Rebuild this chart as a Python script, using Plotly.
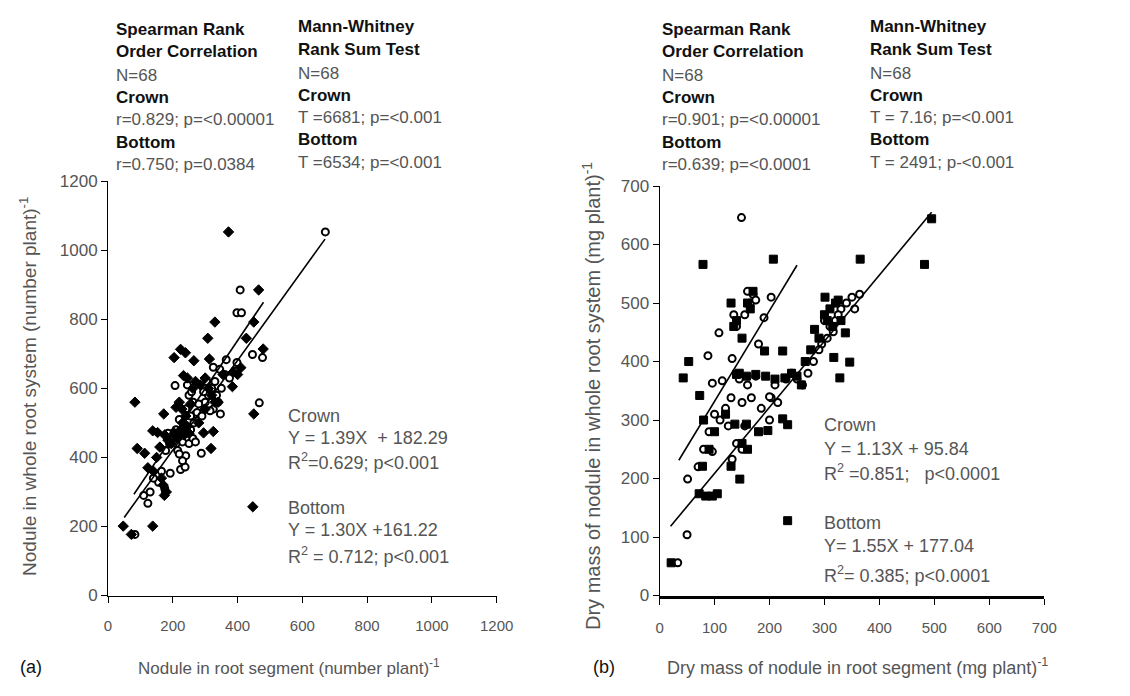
import plotly.graph_objects as go

# ---------------- Panel (a): nodule number ----------------
a_crown_x = [671, 408, 398, 412, 446, 467, 477, 398, 365, 325, 207, 347, 288, 270, 224, 238, 192, 156, 123, 83,
             175, 190, 200, 215, 230, 240, 250, 255, 262, 265, 275, 240, 250, 258, 263, 245, 300, 310, 320, 330,
             335, 340, 325, 290, 280, 220, 210, 178, 165, 140, 110, 130, 350, 360, 375, 390, 240, 230, 220, 315,
             270, 295, 305, 200, 185, 255, 345, 210]
a_crown_y = [1053, 885, 819, 819, 698, 558, 689, 675, 683, 661, 608, 526, 412, 525, 365, 372, 354, 328, 267, 177,
             310, 440, 455, 420, 445, 470, 440, 480, 455, 500, 530, 540, 580, 590, 560, 610, 560, 580, 600, 620,
             580, 560, 540, 520, 555, 510, 480, 420, 360, 340, 290, 300, 600, 640, 630, 650, 405, 390, 410, 535,
             445, 590, 620, 470, 470, 520, 655, 440]
a_bottom_x = [372, 465, 330, 308, 427, 450, 204, 224, 239, 265, 313, 233, 245, 83, 172, 138, 153, 90, 113, 123,
              47, 138, 72, 295, 325, 318, 450, 384, 386, 479, 174, 447, 210, 220, 228, 240, 255, 262, 270, 285,
              300, 310, 320, 330, 205, 215, 225, 235, 245, 185, 195, 175, 160, 150, 140, 165, 170, 180, 230, 250,
              300, 340, 355, 400, 410, 280]
a_bottom_y = [1053, 885, 792, 745, 745, 792, 689, 713, 703, 680, 685, 637, 630, 560, 526, 477, 472, 426, 412, 370,
              201, 201, 177, 471, 475, 426, 526, 605, 647, 714, 290, 257, 545, 560, 540, 520, 555, 600, 620, 610,
              630, 600, 580, 560, 470, 455, 480, 465, 490, 450, 440, 465, 430, 400, 360, 340, 320, 300, 500, 470,
              540, 560, 640, 640, 660, 500]

# trend lines (equation parameters and x span)
a_crown_fit = dict(slope=1.39, intercept=182.29, x=[80, 480])
a_bottom_fit = dict(slope=1.30, intercept=161.22, x=[50, 670])

# ---------------- Panel (b): nodule dry mass ----------------
b_crown_x = [149, 88, 108, 96, 114, 132, 130, 167, 203, 51, 50, 33, 132, 96, 170, 203, 316, 364, 190, 180,
             160, 145, 140, 155, 165, 150, 120, 100, 90, 80, 70, 185, 200, 215, 230, 240, 250, 260, 280, 295,
             310, 320, 330, 340, 350, 305, 290, 270, 210, 175, 155, 150, 140, 125, 110, 200, 135, 160, 175, 300,
             325, 355]
b_crown_y = [646, 410, 449, 363, 367, 405, 338, 338, 338, 199, 104, 56, 233, 246, 515, 510, 451, 515, 475, 430,
             360, 370, 460, 480, 500, 330, 320, 310, 280, 250, 220, 320, 300, 330, 370, 380, 370, 360, 400, 430,
             460, 470, 490, 500, 510, 440, 420, 380, 360, 375, 290, 250, 260, 290, 300, 340, 480, 520, 505, 470,
             480, 490]
b_bottom_x = [79, 207, 365, 482, 495, 43, 53, 73, 78, 146, 233, 21, 328, 346, 338, 317, 282, 301, 224, 191,
              233, 224, 197, 137, 158, 130, 140, 158, 175, 193, 210, 228, 240, 250, 258, 72, 84, 96, 105, 300,
              310, 320, 330, 315, 325, 305, 140, 150, 160, 130, 135, 170, 165, 145, 120, 100, 90, 80, 265, 275,
              290, 150, 160, 180]
b_bottom_y = [566, 575, 575, 566, 644, 372, 400, 342, 221, 199, 128, 56, 372, 399, 449, 407, 455, 510, 418, 418,
              292, 302, 282, 293, 293, 221, 378, 375, 378, 375, 370, 372, 380, 375, 360, 174, 170, 170, 174, 480,
              490, 500, 470, 460, 505, 470, 470, 440, 500, 500, 460, 520, 490, 380, 310, 280, 250, 300, 400, 420,
              440, 260, 250, 280]

b_crown_fit = dict(slope=1.13, intercept=95.84, x=[20, 495])
b_bottom_fit = dict(slope=1.55, intercept=177.04, x=[35, 250])

FONT = "Liberation Sans, Arial, sans-serif"
INK = "#111111"
GREY = "#555555"

fig = go.Figure()

open_marker = dict(symbol="circle", size=7, color="white", line=dict(color="black", width=2))


def add_panel(cx, cy, bx, by, cfit, bfit, bsym, xa, ya):
    fig.add_trace(go.Scatter(x=cx, y=cy, mode="markers", marker=open_marker,
                             xaxis=xa, yaxis=ya, showlegend=False))
    fig.add_trace(go.Scatter(x=bx, y=by, mode="markers",
                             marker=dict(symbol=bsym, size=8, color="black", line=dict(color="black", width=1)),
                             xaxis=xa, yaxis=ya, showlegend=False))
    for fit in (cfit, bfit):
        xs = fit["x"]
        ys = [fit["slope"] * v + fit["intercept"] for v in xs]
        fig.add_trace(go.Scatter(x=xs, y=ys, mode="lines", line=dict(color="black", width=1.6),
                                 xaxis=xa, yaxis=ya, showlegend=False))


add_panel(a_crown_x, a_crown_y, a_bottom_x, a_bottom_y, a_crown_fit, a_bottom_fit, "diamond", "x", "y")
add_panel(b_crown_x, b_crown_y, b_bottom_x, b_bottom_y, b_crown_fit, b_bottom_fit, "square", "x2", "y2")

W, H = 1130, 696


def px(x):
    return x / W


def py(y):
    return (H - y) / H


def axis_style(size, lw=1, standoff=None):
    d = dict(showgrid=False, zeroline=False, showline=True, linecolor="black", linewidth=lw,
             ticks="outside", ticklen=6, tickcolor="black", tickwidth=1,
             tickfont=dict(family=FONT, size=size, color=GREY))
    if standoff is not None:
        d["ticklabelstandoff"] = standoff
    return d


fig.update_layout(
    width=W, height=H, margin=dict(l=0, r=0, t=0, b=0),
    paper_bgcolor="white", plot_bgcolor="white",
    xaxis=dict(domain=[px(106), px(502)], range=[0, 1200], tickvals=[0, 200, 400, 600, 800, 1000, 1200],
               anchor="y", **axis_style(15, standoff=10)),
    yaxis=dict(domain=[py(603), py(177)], range=[0, 1200], tickvals=[0, 200, 400, 600, 800, 1000, 1200],
               anchor="x", **axis_style(17)),
    xaxis2=dict(domain=[px(668), px(1060)], range=[0, 700], tickvals=list(range(0, 701, 100)),
                anchor="y2", **axis_style(15, lw=3, standoff=10)),
    yaxis2=dict(domain=[py(603), py(182)], range=[0, 700], tickvals=list(range(0, 701, 100)),
                anchor="x2", **axis_style(17)),
)

annots = []


def txt(x, y, s, bold=False, size=18, color=None, **kw):
    annots.append(dict(x=px(x), y=py(y), xref="paper", yref="paper", xanchor=kw.pop("xanchor", "left"),
                       yanchor="middle", showarrow=False,
                       text=f"<b>{s}</b>" if bold else s,
                       font=dict(family=FONT, size=size, color=color or (INK if bold else GREY)), **kw))


# header stats blocks
left_rows = [21, 44, 68, 91, 114, 137, 160]
right_rows = [18, 42, 66, 89, 112, 134, 158]
blocks = [
    (112, left_rows, ["Spearman Rank", "Order Correlation", "N=68", "Crown", "r=0.829; p=<0.00001", "Bottom",
                      "r=0.750; p=0.0384"]),
    (298, right_rows, ["Mann-Whitney", "Rank Sum Test", "N=68", "Crown", "T =6681; p=<0.001", "Bottom",
                       "T =6534; p=<0.001"]),
    (668, left_rows, ["Spearman Rank", "Order Correlation", "N=68", "Crown", "r=0.901; p=<0.00001", "Bottom",
                      "r=0.639; p=<0.0001"]),
    (880, right_rows, ["Mann-Whitney", "Rank Sum Test", "N=68", "Crown", "T = 7.16; p=<0.001", "Bottom",
                       "T = 2491; p-<0.001"]),
]
bold_rows = {0, 1, 3, 5}
for x0, rows, lines in blocks:
    for i, (yy, s) in enumerate(zip(rows, lines)):
        txt(x0, yy, s, bold=i in bold_rows, size=17)

# regression labels inside plots
txt(287, 418, "Crown")
txt(287, 441, "Y = 1.39X  + 182.29")
txt(287, 465, "R<sup>2</sup>=0.629; p<0.001")
txt(287, 513, "Bottom")
txt(287, 536, "Y = 1.30X +161.22")
txt(287, 562, "R<sup>2</sup> = 0.712; p<0.001")

txt(833, 428, "Crown")
txt(833, 452, "Y = 1.13X + 95.84")
txt(833, 477, "R<sup>2</sup> =0.851;   p<0.0001")
txt(833, 528, "Bottom")
txt(833, 552, "Y= 1.55X + 177.04")
txt(833, 581, "R<sup>2</sup>= 0.385; p<0.0001")

# axis titles
txt(290, 676, "Nodule in root segment (number plant)<sup>-1</sup>", size=17, xanchor="center")
txt(870, 676, "Dry mass of nodule in root segment (mg plant)<sup>-1</sup>", size=18, xanchor="center")
txt(14, 676, "(a)", size=18, color=INK)
txt(598, 676, "(b)", size=18, color=INK)
annots.append(dict(x=px(25), y=py(388), xref="paper", yref="paper", textangle=-90, showarrow=False,
                   xanchor="center", yanchor="middle",
                   text="Nodule in whole root system (number plant)<sup>-1</sup>",
                   font=dict(family=FONT, size=19, color=GREY)))
annots.append(dict(x=px(598), y=py(398), xref="paper", yref="paper", textangle=-90, showarrow=False,
                   xanchor="center", yanchor="middle",
                   text="Dry mass of nodule in whole root system (mg plant)<sup>-1</sup>",
                   font=dict(family=FONT, size=20, color=GREY)))

fig.update_layout(annotations=annots)
fig.write_html("out.html")
